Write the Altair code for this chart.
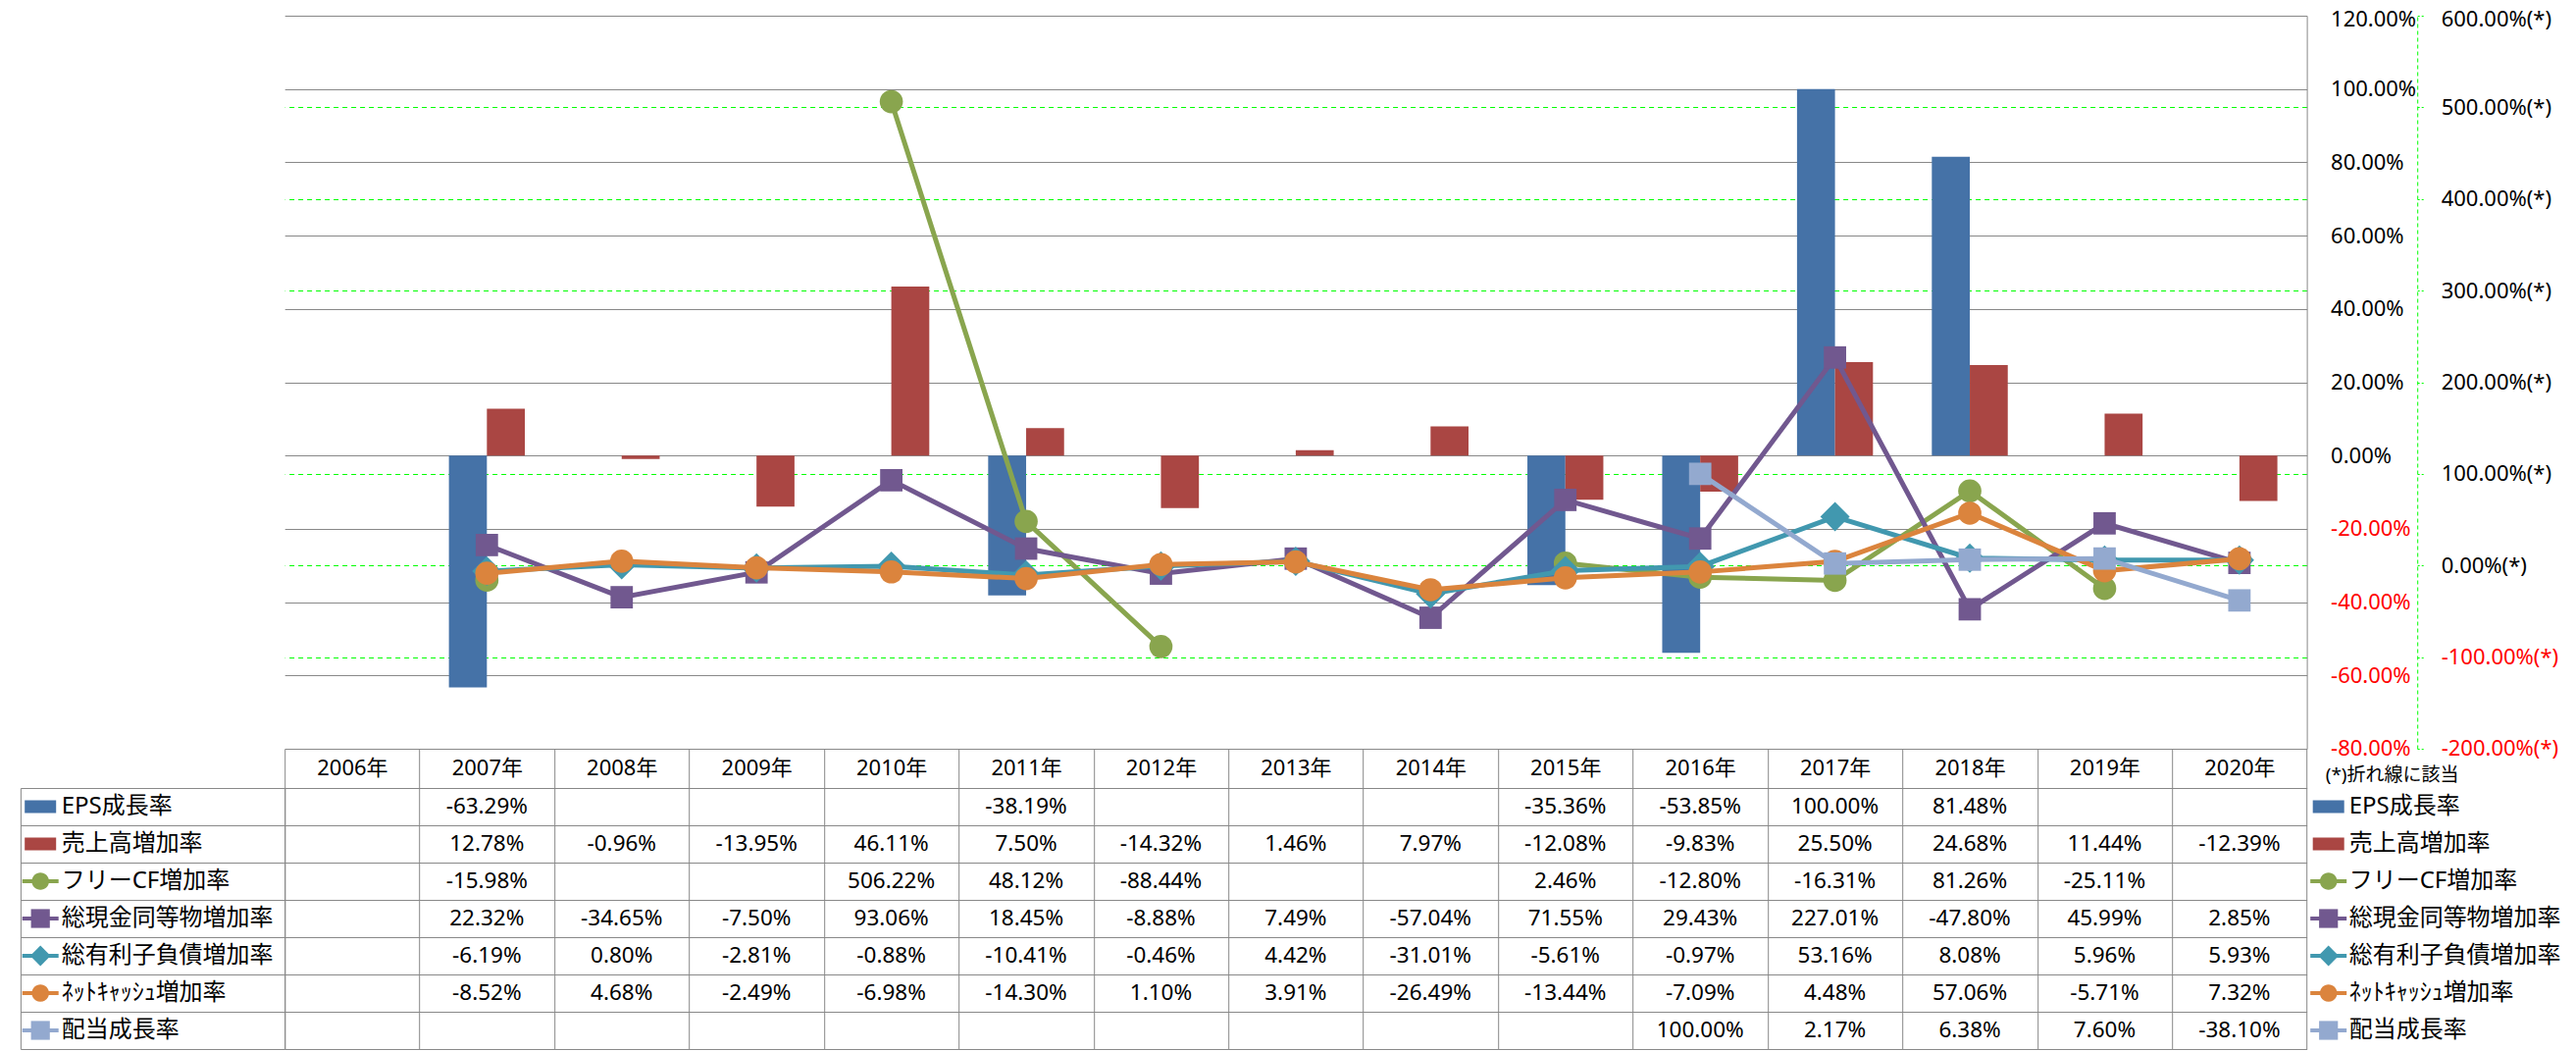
import altair as alt
import pandas as pd

# ---------------- data ----------------
years = ["2006年", "2007年", "2008年", "2009年", "2010年", "2011年", "2012年",
         "2013年", "2014年", "2015年", "2016年", "2017年", "2018年", "2019年", "2020年"]

series_names = ["EPS成長率", "売上高増加率", "フリーCF増加率", "総現金同等物増加率",
                "総有利子負債増加率", "ﾈｯﾄｷｬｯｼｭ増加率", "配当成長率"]

eps = [None, -63.29, None, None, None, -38.19, None, None, None, -35.36, -53.85, 100.00, 81.48, None, None]
sales = [None, 12.78, -0.96, -13.95, 46.11, 7.50, -14.32, 1.46, 7.97, -12.08, -9.83, 25.50, 24.68, 11.44, -12.39]
fcf = [None, -15.98, None, None, 506.22, 48.12, -88.44, None, None, 2.46, -12.80, -16.31, 81.26, -25.11, None]
cash = [None, 22.32, -34.65, -7.50, 93.06, 18.45, -8.88, 7.49, -57.04, 71.55, 29.43, 227.01, -47.80, 45.99, 2.85]
debt = [None, -6.19, 0.80, -2.81, -0.88, -10.41, -0.46, 4.42, -31.01, -5.61, -0.97, 53.16, 8.08, 5.96, 5.93]
netcash = [None, -8.52, 4.68, -2.49, -6.98, -14.30, 1.10, 3.91, -26.49, -13.44, -7.09, 4.48, 57.06, -5.71, 7.32]
dividend = [None, None, None, None, None, None, None, None, None, None, 100.00, 2.17, 6.38, 7.60, -38.10]

all_values = [eps, sales, fcf, cash, debt, netcash, dividend]

bar_series = series_names[:2]
line_series = series_names[2:]
series_colors = ["#4572A7", "#AA4643", "#89A54E", "#71588F", "#4198AF", "#DB843D", "#93A9CF"]
line_shapes = ["circle", "square", "diamond", "circle", "square"]
line_marker_sizes = [560, 520, 900, 560, 520]

primary_ticks = [-80, -60, -40, -20, 0, 20, 40, 60, 80, 100, 120]
secondary_ticks = [-200, -100, 0, 100, 200, 300, 400, 500, 600]

# ---------------- style ----------------
GRAY = "#888888"
GREEN = "#00FF00"
RED = "#FF0000"
FONT = "Noto Sans, Noto Sans CJK JP"

W = 2061.4
H = 747
ROW_H = 38
HEADER_H = 40
LABEL_COL_W = 269.3

records = []
for name, vals in zip(series_names, all_values):
    for yr, v in zip(years, vals):
        records.append({"year": yr, "series": name, "v": v})
df = pd.DataFrame(records)
key_df = pd.DataFrame({"series": series_names})

pct_expr = "(datum.value < 0 ? '-' : '') + format(abs(datum.value), '.2f') + '%'"
neg_red = {"condition": {"test": "datum.value < 0", "value": RED}, "value": "#000000"}

# ---------------- plot ----------------
x_plot = alt.X("year:N", sort=years,
               scale=alt.Scale(domain=years, paddingInner=0.4367, paddingOuter=0.2183),
               axis=None)

primary_axis = alt.Axis(
    orient="right", values=primary_ticks, title=None,
    grid=True, gridColor=GRAY, gridWidth=1,
    domain=True, domainColor=GRAY, domainWidth=1,
    ticks=False, labelPadding=24, labelAlign="left", labelBaseline="middle",
    labelFont=FONT, labelFontSize=22, labelColor=neg_red, labelExpr=pct_expr,
    labelOffset={"condition": {"test": "datum.value == 120", "value": 3}, "value": 0},
    labelOverlap=False, labelFlush=False,
)

secondary_axis = alt.Axis(
    orient="right", offset=112.6, values=secondary_ticks,
    title="(*)折れ線に該当", titleAngle=0, titleAlign="left", titleBaseline="middle",
    titleX=-94, titleY=773.7, titleFont=FONT, titleFontSize=19, titleFontWeight="normal",
    titleColor="#000000",
    grid=True, gridColor=GREEN, gridDash=[5, 4], gridWidth=1,
    gridOpacity={"condition": {"test": "datum.value == 600 || datum.value == 200 || datum.value == -200",
                               "value": 0}, "value": 1},
    domain=True, domainColor=GREEN, domainDash=[4, 3], domainWidth=1,
    ticks=True, tickColor=GREEN, tickDash=[2, 2], tickSize=8, tickWidth=1,
    labelPadding=16, labelAlign="left", labelBaseline="middle",
    labelFont=FONT, labelFontSize=22, labelColor=neg_red,
    labelExpr=pct_expr + " + '(*)'",
    labelOffset={"condition": {"test": "datum.value == 600", "value": 3}, "value": 0},
    labelOverlap=False, labelFlush=False,
)

bars = alt.Chart(df).transform_filter(
    alt.FieldOneOfPredicate(field="series", oneOf=bar_series)
).mark_bar().encode(
    x=x_plot,
    xOffset=alt.XOffset("series:N", sort=bar_series,
                        scale=alt.Scale(domain=bar_series, paddingInner=0, paddingOuter=0)),
    y=alt.Y("v:Q", scale=alt.Scale(domain=[-80, 120], nice=False), axis=primary_axis),
    color=alt.Color("series:N", scale=alt.Scale(domain=bar_series, range=series_colors[:2]), legend=None),
)

y_sec = alt.Y("v:Q", scale=alt.Scale(domain=[-200, 600], nice=False), axis=secondary_axis)

line_layers = []
for name, color, shape, size in zip(line_series, series_colors[2:], line_shapes, line_marker_sizes):
    base = alt.Chart(df).transform_filter(alt.datum.series == name)
    ln = base.mark_line(color=color, strokeWidth=5, invalid="break-paths-filter-domains").encode(
        x=x_plot, y=y_sec)
    pt = base.transform_filter("isValid(datum.v)").mark_point(
        shape=shape, size=size, filled=True, color=color, opacity=1, strokeWidth=0
    ).encode(x=x_plot, y=y_sec)
    line_layers += [ln, pt]

plot = alt.layer(bars, alt.layer(*line_layers)).resolve_scale(y="independent").properties(
    width=W, height=H)

# ---------------- data table ----------------
RECT = "M-0.8,-0.325H0.8V0.325H-0.8Z"
LINE = "M-0.925,-0.1H0.925V0.1H-0.925Z"
CIRCLE = "M0.44,0A0.44,0.44,0,1,1,-0.44,0A0.44,0.44,0,1,1,0.44,0Z"
SQUARE = "M-0.48,-0.48H0.48V0.48H-0.48Z"
DIAMOND = "M-0.52,0L0,-0.52L0.52,0L0,0.52Z"
base_shapes = [RECT, RECT, LINE, LINE, LINE, LINE, LINE]
marker_shapes = [RECT, RECT, CIRCLE, SQUARE, DIAMOND, CIRCLE, SQUARE]

row_scale = alt.Scale(domain=series_names, paddingInner=0, paddingOuter=0)

x_tbl = alt.X("year:N", sort=years,
              scale=alt.Scale(domain=years, paddingInner=0, paddingOuter=0),
              axis=alt.Axis(orient="top", title=None, labelAngle=0, labelFont=FONT, labelFontSize=22,
                            labelColor="#000000", labelPadding=-20, labelBaseline="middle",
                            labelAlign="center", ticks=True, tickBand="extent", tickSize=HEADER_H,
                            tickColor=GRAY, tickWidth=1, grid=True, gridColor=GRAY, gridWidth=1,
                            domain=True, domainColor=GRAY, domainWidth=1))

y_tbl = alt.Y("series:N", sort=series_names, scale=row_scale,
              axis=alt.Axis(orient="left", title=None, labelFont=FONT, labelFontSize=24,
                            labelColor="#000000", labelAlign="left", labelBaseline="middle",
                            labelPadding=-41.3, labelLimit=400, ticks=True, tickBand="extent",
                            tickSize=LABEL_COL_W, tickColor=GRAY, tickWidth=1, grid=True,
                            gridColor=GRAY, gridWidth=1, domain=True, domainColor=GRAY))

cells = alt.Chart(df).transform_calculate(
    label="isValid(datum.v) ? ((datum.v < 0 ? '-' : '') + format(abs(datum.v), '.2f') + '%') : ''"
).mark_text(font=FONT, fontSize=22.5, color="#000000", align="center", baseline="middle").encode(
    x=x_tbl, y=y_tbl, text="label:N")

y_left_border = alt.Y("series:N", sort=series_names, scale=row_scale,
                      axis=alt.Axis(orient="left", offset=LABEL_COL_W, title=None, labels=False,
                                    ticks=False, grid=False, domain=True, domainColor=GRAY))
y_right_legend = alt.Y("series:N", sort=series_names, scale=row_scale,
                       axis=alt.Axis(orient="right", title=None, labelFont=FONT, labelFontSize=24,
                                     labelColor="#000000", labelAlign="left", labelBaseline="middle",
                                     labelPadding=42.6, labelLimit=400, ticks=False, grid=False,
                                     domain=False))

color_all = alt.Color("series:N", scale=alt.Scale(domain=series_names, range=series_colors), legend=None)


def key_layer(xpos, ycode):
    base = alt.Chart(key_df).mark_point(filled=True, opacity=1, size=1600, strokeWidth=0).encode(
        x=alt.value(xpos), y=ycode, color=color_all,
        shape=alt.Shape("series:N", scale=alt.Scale(domain=series_names, range=base_shapes), legend=None))
    mk = alt.Chart(key_df).transform_filter(
        alt.FieldOneOfPredicate(field="series", oneOf=line_series)
    ).mark_point(filled=True, opacity=1, size=1600, strokeWidth=0).encode(
        x=alt.value(xpos), y=ycode, color=color_all,
        shape=alt.Shape("series:N", scale=alt.Scale(domain=series_names, range=marker_shapes), legend=None))
    return alt.layer(base, mk).resolve_scale(shape="independent")


left_keys = key_layer(-249, y_left_border)
right_keys = key_layer(W + 22.1, y_right_legend)

table = alt.layer(cells, left_keys, right_keys).resolve_scale(
    y="independent", shape="independent", color="independent"
).properties(width=W, height=ROW_H * len(series_names))

chart = alt.vconcat(plot, table, spacing=HEADER_H, bounds="flush").resolve_scale(
    x="independent", y="independent", color="independent", shape="independent"
).properties(
    padding={"left": 12.2, "top": 0, "right": 0, "bottom": 0},
    background="#FFFFFF",
).configure_view(strokeWidth=0)

chart.save("out.html", embed_options={"renderer": "svg", "actions": False})
